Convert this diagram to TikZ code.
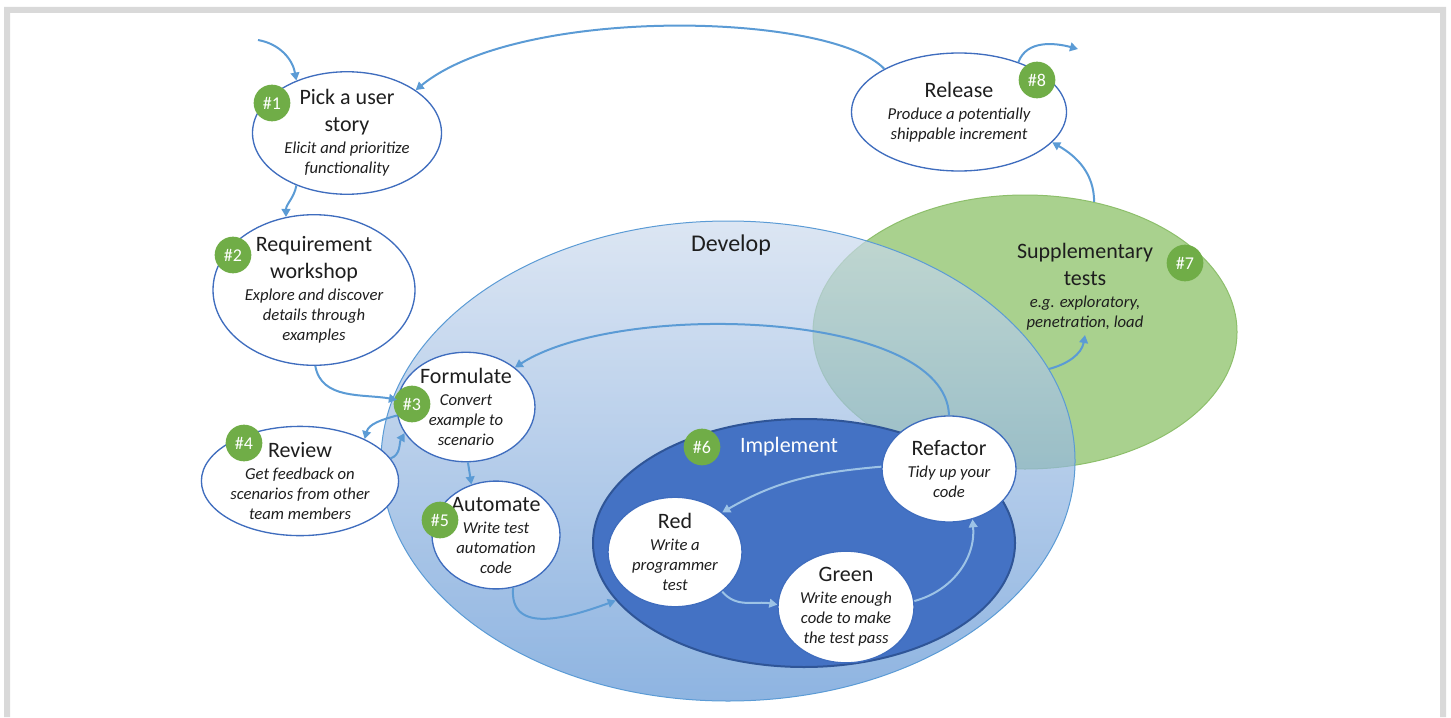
\documentclass[tikz,border=0pt]{standalone}
\usepackage{fontspec}
\setmainfont{Carlito}
\usepackage{xcolor}
\usetikzlibrary{arrows.meta,shapes.geometric}

\definecolor{flowblue}{HTML}{5B9BD5}
\definecolor{rimblue}{HTML}{3F6DBE}
\definecolor{implblue}{HTML}{4472C4}
\definecolor{implrim}{HTML}{2F5597}
\definecolor{loopblue}{HTML}{9DC3E6}
\definecolor{badgegreen}{HTML}{70AD47}
\definecolor{suppgreen}{HTML}{A9D18E}
\definecolor{supprim}{HTML}{8DBF6B}
\definecolor{devtop}{HTML}{CDDBEE}
\definecolor{devbot}{HTML}{5E94D4}
\definecolor{ink}{HTML}{1E1E1E}
\definecolor{framegray}{HTML}{D9D9D9}

\newcommand{\dsc}[1]{{\fontsize{12.5}{15}\selectfont\itshape #1}}

\begin{document}
\begin{tikzpicture}[x=0.75pt,y=-0.75pt,
    every node/.style={font=\fontsize{16.5}{20}\selectfont,text=ink,align=center},
    oval/.style 2 args={ellipse,minimum width=#1*0.75pt,minimum height=#2*0.75pt,inner sep=0pt},
    stage/.style={draw=rimblue,line width=1pt,fill=white},
    badge/.style={circle,fill=badgegreen,text=white,minimum size=27.5pt,inner sep=0pt,font=\fontsize{13.5}{15}\selectfont},
    flow/.style={draw=flowblue,line width=1.5pt,-{Triangle[length=6pt,width=6.5pt]}},
    loopflow/.style={flow,draw=loopblue}]
  \useasboundingbox (0,0) rectangle (1451,717);
  \fill[framegray] (4,7) rectangle (10,717) (4,7) rectangle (1446,13) (1440,7) rectangle (1446,717);

  \node[oval={424}{274},draw=supprim,line width=0.75pt,fill=suppgreen] (supp) at (1025,332) {};
  \node[oval={694}{480},draw=flowblue,line width=0.75pt,top color=devtop,bottom color=devbot,fill opacity=0.7] (develop) at (728,461) {};
  \node[font=\fontsize{18}{22}\selectfont] (devlabel) at (731,245) {Develop};
  \node (supptext) at (1085,287) {Supplementary\\tests\\[-3.5pt]\dsc{e.g. exploratory,}\\[-5pt]\dsc{penetration, load}};
  \node[oval={422}{248},draw=implrim,line width=1.5pt,fill=implblue] (impl) at (804,543) {};
  \node[text=white] (impllabel) at (789,447) {Implement};

  \node[stage,oval={189}{116}] (pick) at (347,133) {Pick a user\\story\\[-3.5pt]\dsc{Elicit and prioritize}\\[-5pt]\dsc{functionality}};
  \node[stage,oval={202}{130}] (req) at (314,290) {Requirement\\workshop\\[-3.5pt]\dsc{Explore and discover}\\[-5pt]\dsc{details through}\\[-5pt]\dsc{examples}};
  \node[stage,oval={138}{106}] (form) at (466,407) {Formulate\\[-3.5pt]\dsc{Convert}\\[-5pt]\dsc{example to}\\[-5pt]\dsc{scenario}};
  \node[stage,oval={155}{100}] (review) at (300,481) {Review\\[-3.5pt]\dsc{Get feedback on}\\[-5pt]\dsc{scenarios from other}\\[-5pt]\dsc{team members}};
  \node[stage,oval={128}{106}] (auto) at (496,535) {Automate\\[-3.5pt]\dsc{Write test}\\[-5pt]\dsc{automation}\\[-5pt]\dsc{code}};
  \node[stage,oval={215}{118}] (release) at (959,112) {Release\\[-3.5pt]\dsc{Produce a potentially}\\[-5pt]\dsc{shippable increment}};
  \node[stage,oval={134}{106}] (refactor) at (949,469) {Refactor\\[-3.5pt]\dsc{Tidy up your}\\[-5pt]\dsc{code}};
  \node[stage,oval={134}{104}] (red) at (675,552) {Red\\[-3.5pt]\dsc{Write a}\\[-5pt]\dsc{programmer}\\[-5pt]\dsc{test}};
  \node[stage,oval={136}{104}] (green) at (846,607) {Green\\[-3.5pt]\dsc{Write enough}\\[-5pt]\dsc{code to make}\\[-5pt]\dsc{the test pass}};

  \node[badge] (b1) at (272,103) {\#1};
  \node[badge] (b2) at (233,255) {\#2};
  \node[badge] (b3) at (412,404) {\#3};
  \node[badge] (b4) at (244,443) {\#4};
  \node[badge] (b5) at (440,520) {\#5};
  \node[badge] (b6) at (702,447) {\#6};
  \node[badge] (b7) at (1185,263) {\#7};
  \node[badge] (b8) at (1037,80) {\#8};

  \coordinate (entry) at (258,40);
  \coordinate (exit) at (1078,49);
  \draw[flow] (entry) to[out=-10,in=100] (pick.134);
  \draw[flow] (release.150) .. controls (830,12) and (520,5) .. (pick.32);
  \draw[flow] (release.40) to[out=70,in=165] (exit);
  \draw[flow] (pick.226) to[out=-100,in=90] (req.111);
  \draw[flow] (req.271) to[out=-80,in=170] (form.174);
  \draw[flow] (form.187) to[out=195,in=75] (review.33);
  \draw[flow] (review.14) to[out=20,in=240] (form.203);
  \draw[flow] (form.-88) -- (auto.116);
  \draw[flow] (auto.-72) to[out=-95,in=200,looseness=1.2] (impl.197);
  \draw[flow] (refactor.90) .. controls (946,310) and (620,300) .. (form.39);
  \draw[flow] (supp.62) to[out=90,in=-30] (release.-18);
  \draw[flow] (develop.16) to[out=15,in=-100] (supptext.south);
  \draw[loopflow] (refactor.178) to[out=185,in=30] (red.40);
  \draw[loopflow] (red.-40) to[out=-50,in=170] (green.178);
  \draw[loopflow] (green.5) to[out=15,in=-85] (refactor.-65);
\end{tikzpicture}
\end{document}
